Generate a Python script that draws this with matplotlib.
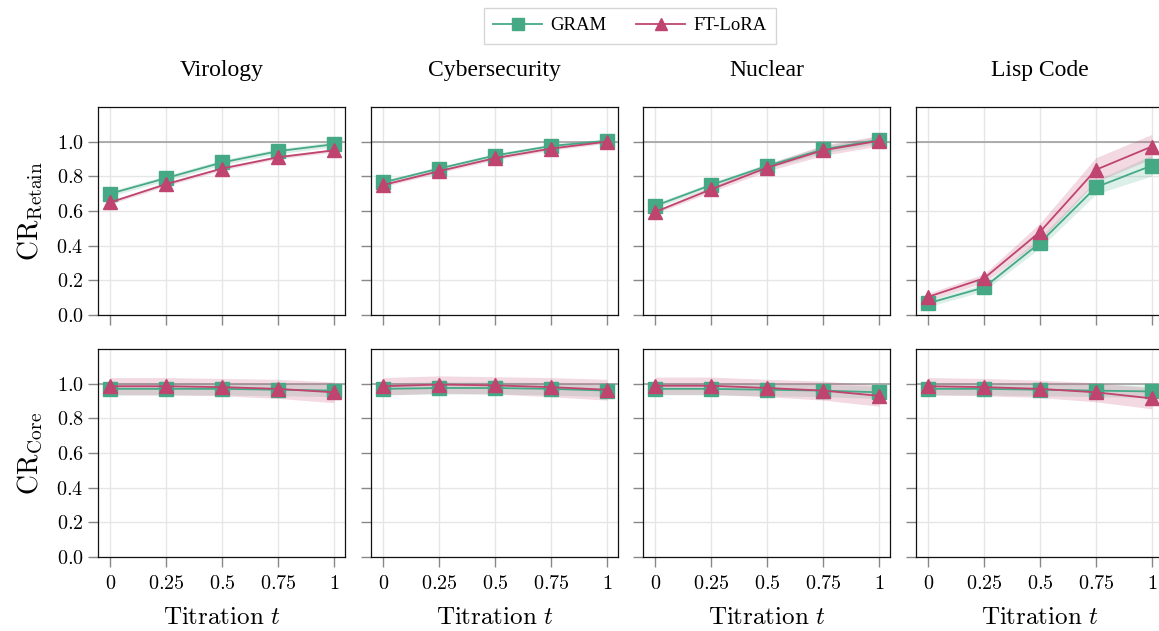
import matplotlib
matplotlib.use("Agg")
import matplotlib.pyplot as plt
import numpy as np

t_vals = [0, 0.25, 0.5, 0.75, 1]
t_labels = ["$0$", "$0.25$", "$0.5$", "$0.75$", "$1$"]
domains = ["Virology", "Cybersecurity", "Nuclear", "Lisp Code"]
methods = ["GRAM", "FT-LoRA"]

# CR_Retain (top row)
retain_gram = {
    "Virology":      [0.70, 0.79, 0.88, 0.945, 0.985],
    "Cybersecurity": [0.765, 0.845, 0.92, 0.975, 1.005],
    "Nuclear":       [0.63, 0.75, 0.86, 0.955, 1.01],
    "Lisp Code":     [0.068, 0.159, 0.417, 0.737, 0.862],
}
retain_gram_err = {
    "Virology":      [0.015, 0.015, 0.015, 0.015, 0.015],
    "Cybersecurity": [0.012, 0.012, 0.012, 0.012, 0.012],
    "Nuclear":       [0.015, 0.015, 0.015, 0.02, 0.02],
    "Lisp Code":     [0.02, 0.02, 0.03, 0.04, 0.06],
}
retain_lora = {
    "Virology":      [0.65, 0.755, 0.845, 0.91, 0.95],
    "Cybersecurity": [0.75, 0.83, 0.905, 0.96, 1.0],
    "Nuclear":       [0.595, 0.725, 0.85, 0.95, 1.005],
    "Lisp Code":     [0.105, 0.212, 0.48, 0.838, 0.972],
}
retain_lora_err = {
    "Virology":      [0.01, 0.01, 0.01, 0.01, 0.01],
    "Cybersecurity": [0.01, 0.01, 0.01, 0.01, 0.01],
    "Nuclear":       [0.01, 0.015, 0.02, 0.03, 0.03],
    "Lisp Code":     [0.02, 0.025, 0.05, 0.07, 0.07],
}

# CR_Core (bottom row)
core_gram = {
    "Virology":      [0.97, 0.97, 0.97, 0.965, 0.96],
    "Cybersecurity": [0.97, 0.975, 0.975, 0.97, 0.96],
    "Nuclear":       [0.97, 0.97, 0.965, 0.96, 0.95],
    "Lisp Code":     [0.97, 0.97, 0.965, 0.96, 0.955],
}
core_gram_err = {
    "Virology":      [0.035, 0.035, 0.035, 0.035, 0.035],
    "Cybersecurity": [0.035, 0.035, 0.035, 0.035, 0.035],
    "Nuclear":       [0.035, 0.035, 0.035, 0.035, 0.035],
    "Lisp Code":     [0.035, 0.035, 0.035, 0.035, 0.035],
}
core_lora = {
    "Virology":      [0.985, 0.985, 0.98, 0.97, 0.95],
    "Cybersecurity": [0.985, 0.995, 0.99, 0.98, 0.965],
    "Nuclear":       [0.988, 0.988, 0.975, 0.96, 0.93],
    "Lisp Code":     [0.985, 0.98, 0.97, 0.95, 0.915],
}
core_lora_err = {
    "Virology":      [0.05, 0.05, 0.05, 0.055, 0.06],
    "Cybersecurity": [0.05, 0.05, 0.05, 0.055, 0.06],
    "Nuclear":       [0.05, 0.05, 0.05, 0.055, 0.06],
    "Lisp Code":     [0.05, 0.05, 0.05, 0.055, 0.06],
}

yticks = [0.0, 0.2, 0.4, 0.6, 0.8, 1.0]
ytick_labels = ["$0.0$", "$0.2$", "$0.4$", "$0.6$", "$0.8$", "$1.0$"]

c_gram = "#46a985"
c_lora = "#bf4470"

plt.rcParams["mathtext.fontset"] = "cm"
plt.rcParams["font.family"] = ["Liberation Serif", "DejaVu Serif"]

W, H = 1159, 631
fig = plt.figure(figsize=(W / 100, H / 100), dpi=100)

lefts = [98, 371, 643, 916]
aw = 247
rows = [(107, 315), (349, 557)]

def frac_rect(x0, y0, x1, y1):
    return [x0 / W, 1 - y1 / H, (x1 - x0) / W, (y1 - y0) / H]

handles = None
for r, (ytop, ybot) in enumerate(rows):
    for c, dom in enumerate(domains):
        ax = fig.add_axes(frac_rect(lefts[c], ytop, lefts[c] + aw, ybot))
        if r == 0:
            g, ge, l, le = retain_gram[dom], retain_gram_err[dom], retain_lora[dom], retain_lora_err[dom]
        else:
            g, ge, l, le = core_gram[dom], core_gram_err[dom], core_lora[dom], core_lora_err[dom]
        g = np.array(g); ge = np.array(ge); l = np.array(l); le = np.array(le)
        ax.axhline(1.0, color="#a0a0a0", lw=1.2, zorder=1)
        ax.fill_between(t_vals, g - ge, g + ge, color=c_gram, alpha=0.18, lw=0, zorder=2)
        ax.fill_between(t_vals, l - le, l + le, color=c_lora, alpha=0.2, lw=0, zorder=2)
        h1, = ax.plot(t_vals, g, color=c_gram, lw=1.3, marker="s", ms=10, zorder=3, label="GRAM")
        h2, = ax.plot(t_vals, l, color=c_lora, lw=1.3, marker="^", ms=10, zorder=4, label="FT-LoRA")
        handles = [h1, h2]
        ax.set_xlim(-0.055, 1.05)
        ax.set_ylim(0, 1.2)
        ax.set_xticks(t_vals)
        ax.set_yticks(yticks)
        ax.grid(True, color="#e6e6e6", lw=1.0, zorder=0)
        ax.set_axisbelow(True)
        ax.tick_params(direction="out", length=7, width=1, color="#888888", labelsize=14.5)
        ax.tick_params(axis="x", pad=6)
        for sp in ax.spines.values():
            sp.set_linewidth(0.9)
            sp.set_color("#111111")
        if c == 0:
            ax.set_yticklabels(ytick_labels)
            lab = r"$\mathrm{CR}_{\mathrm{Retain}}$" if r == 0 else r"$\mathrm{CR}_{\mathrm{Core}}$"
            ax.set_ylabel(lab, fontsize=20, labelpad=8)
        else:
            ax.set_yticklabels([])
        if r == 1:
            ax.set_xticklabels(t_labels)
            ax.set_xlabel(r"$\mathrm{Titration}\ t$", fontsize=18, labelpad=9)
        else:
            ax.set_xticklabels([])
            ax.set_title(dom, fontsize=17, pad=22)

leg = fig.legend(handles, methods, loc="upper center", bbox_to_anchor=(630 / W, 1 - 8 / H),
                 borderaxespad=0, ncol=2, fontsize=13.5, frameon=True, fancybox=False,
                 edgecolor="#cccccc", handlelength=2.6, handletextpad=0.45,
                 columnspacing=1.6, borderpad=0.5, markerscale=0.9)
leg.get_frame().set_linewidth(1.0)

fig.savefig("out.png", dpi=100)
